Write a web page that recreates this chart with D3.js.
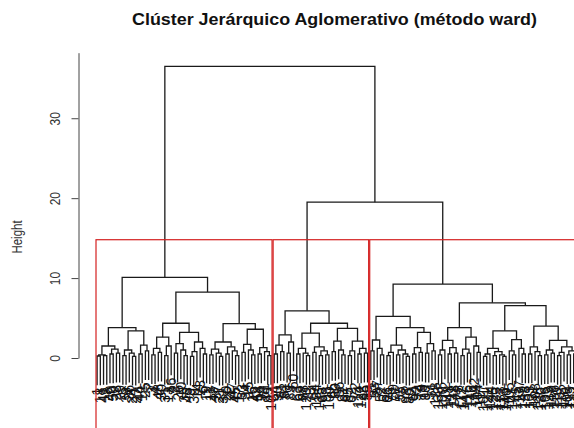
<!DOCTYPE html>
<html>
<head>
<meta charset="utf-8">
<script src="https://cdn.jsdelivr.net/npm/d3@7"></script>
<style>
  body { margin: 0; background: #fff; }
  svg { display: block; }
  text { font-family: "Liberation Sans", Arial, sans-serif; }
</style>
</head>
<body>
<svg id="chart" width="574" height="428"></svg>
<script>
const title = "Clúster Jerárquico Aglomerativo (método ward)"
const yLabel = "Height"
const yTicks = [0, 10, 20, 30]

// merges written as [height, left, right]; leaves are observation numbers
const cluster1 = [10.1,
  [3.8,
    [1.5, [0.4, [0.25, 1, 18], [0.3, 41, 8]], [1.1, [0.5, 40, 50], [0.6, 28, 29]]],
    [3.4, [1.0, [0.3, 5, 38], [0.6, 36, [0.2, 24, 27]]], [1.6, [0.5, 44, 12], [0.9, 25, 7]]]],
  [8.25,
    [4.35,
      [2.6, [1.2, [0.4, 3, 4], [0.7, 48, 30]], [1.5, [0.3, 31, 13], 46]],
      [3.2, [1.8, [0.6, 2, 26], [1.0, 10, [0.3, 35, 43]]], [2.0, [0.8, [0.2, 9, 39], 14], [1.2, 23, [0.5, 6, 19]]]]],
    [4.3,
      [2.0, [1.1, [0.4, 11, 49], [0.6, 37, [0.2, 21, 32]]], [1.4, [0.5, 20, 22], [0.9, 47, [0.3, 45, 17]]]],
      [3.6, [1.7, [0.7, 33, 34], [1.0, 15, [0.4, 16, 42]]], [1.3, [0.5, 58, 94], [0.8, 61, [0.3, 99, 107]]]]]]]

const cluster2 = [5.9,
  [2.9, [1.6, [0.5, 54, 90], [0.8, 81, 82]], [2.0, [0.6, 70, 83], 60]],
  [4.35,
    [3.1, [1.2, [0.5, 63, 69], [0.6, 88, [0.3, 120, 73]]], [1.4, [0.7, 84, 134], [0.9, [0.3, 135, 68], [0.4, 93, 100]]]],
    [3.7, [2.1, [0.8, 65, 80], [1.0, 56, [0.4, 91, 67]]], [2.1, [0.9, [0.3, 85, 62], 72], [1.2, [0.5, 114, 122], [0.6, 95, 89]]]]]]

const cluster3 = [9.25,
  [5.2,
    [2.25, [0.9, 51, 53], [1.2, 87, [0.4, 52, 57]]],
    [3.8,
      [1.6, [0.7, [0.3, 66, 76], 59], [1.0, [0.4, 77, 55], [0.5, 75, [0.2, 98, 86]]]],
      [3.2, [1.3, [0.5, 64, 92], [0.7, 74, 79]], [1.8, [0.6, 96, 97], [0.9, 71, 128]]]]],
  [6.9,
    [3.8,
      [2.2, [1.0, [0.4, 139, 150], 102], [1.3, [0.5, 143, 111], [0.6, 148, 78]]],
      [2.6, [1.1, [0.3, 112, 147], [0.6, 116, 146]], [1.5, 142, [0.7, 104, 117]]]],
    [6.55,
      [3.4,
        [1.2, [0.5, [0.2, 101, 121], 144], [0.8, [0.3, 125, 129], [0.4, 133, [0.2, 113, 140]]]],
        [2.3, [0.9, 105, [0.4, 141, 145]], [1.2, 137, [0.5, 149, 138]]]],
      [4.0,
        [1.4, [0.5, 103, 131], [0.8, 108, [0.3, 126, 130]]],
        [2.2, [1.0, [0.4, 106, 123], [0.6, 119, 136]], [1.4, [0.7, [0.3, 110, 118], 132], [0.9, [0.4, 109, 115], [0.5, 127, 124]]]]]]]]

const topHeights = [36.5, 19.5] // root, then cluster2 + cluster3
const k = 3

const svg = d3.select("#chart")

const tree = [topHeights[0], cluster1, [topHeights[1], cluster2, cluster3]]
const root = d3.hierarchy(tree, d => Array.isArray(d) ? d.slice(1) : null)
d3.cluster().nodeSize([1, 1]).separation(() => 1)(root)

// leaves hang 10% of the tallest merge below their parent (R's hang = 0.1)
const hang = 0.1 * topHeights[0]
root.eachBefore(d => {
  d.h = d.children ? d.data[0] : d.parent.h - hang
})
const leaves = root.leaves()

const x = d3.scaleLinear()
  .domain([leaves[0].x, leaves[leaves.length - 1].x])
  .range([97.1, 576.9])
const y = d3.scaleLinear().domain([0, 38.2]).range([358, 52.7])

// cut height for k clusters (same rule as rect.hclust)
const merges = root.descendants().filter(d => d.children).map(d => d.h).sort((a, b) => b - a)
const cut = (merges[k - 2] + merges[k - 1]) / 2
const groups = root.descendants().filter(d => d.children && d.h < cut && d.parent && d.parent.h >= cut)

// dendrogram
svg.append("g")
  .attr("fill", "none")
  .attr("stroke", "#1a1a1a")
  .attr("stroke-width", 1.3)
  .selectAll("path")
  .data(root.descendants().filter(d => d.children))
  .join("path")
  .attr("d", d => {
    const [l, r] = d.children
    return `M${x(l.x)},${y(l.h)}V${y(d.h)}H${x(r.x)}V${y(r.h)}`
  })

// leaf labels
svg.append("g")
  .attr("font-size", 14)
  .attr("fill", "#111")
  .selectAll("text")
  .data(leaves)
  .join("text")
  .attr("transform", d => `translate(${x(d.x)},${y(d.h) + 2.5}) rotate(-90)`)
  .attr("text-anchor", "end")
  .attr("dy", "0.35em")
  .text(d => d.data)

// cluster boxes
svg.append("g")
  .attr("fill", "none")
  .attr("stroke", "#d42020")
  .attr("stroke-width", 1.2)
  .selectAll("rect")
  .data(groups)
  .join("rect")
  .attr("x", d => x(d.leaves()[0].x - 0.34))
  .attr("width", d => x(d.leaves()[d.leaves().length - 1].x + 0.33) - x(d.leaves()[0].x - 0.34))
  .attr("y", y(cut))
  .attr("height", 440 - y(cut))

// y axis
const axis = svg.append("g")
  .attr("transform", "translate(78.5,0)")
  .call(d3.axisLeft(y).tickValues(yTicks).tickSize(7).tickSizeOuter(0))
axis.select(".domain").attr("stroke", "#444")
axis.selectAll(".tick line").attr("stroke", "#444")
axis.selectAll(".tick text")
  .attr("transform", "translate(-18.5,0) scale(1.2,1) rotate(-90)")
  .attr("x", 0).attr("y", 0).attr("dy", 0)
  .attr("text-anchor", "middle")
  .attr("font-size", 12)
  .attr("font-family", "Liberation Sans, Arial, sans-serif")
  .attr("fill", "#333")

svg.append("text")
  .attr("transform", "translate(21.5,237) scale(1.2,1) rotate(-90)")
  .attr("text-anchor", "middle")
  .attr("font-size", 11.5)
  .attr("fill", "#333")
  .text(yLabel)

svg.append("text")
  .attr("x", 334.5).attr("y", 24.5)
  .attr("text-anchor", "middle")
  .attr("font-size", 16)
  .attr("font-weight", "bold")
  .attr("textLength", 405)
  .attr("lengthAdjust", "spacingAndGlyphs")
  .attr("fill", "#111")
  .text(title)
</script>
</body>
</html>
